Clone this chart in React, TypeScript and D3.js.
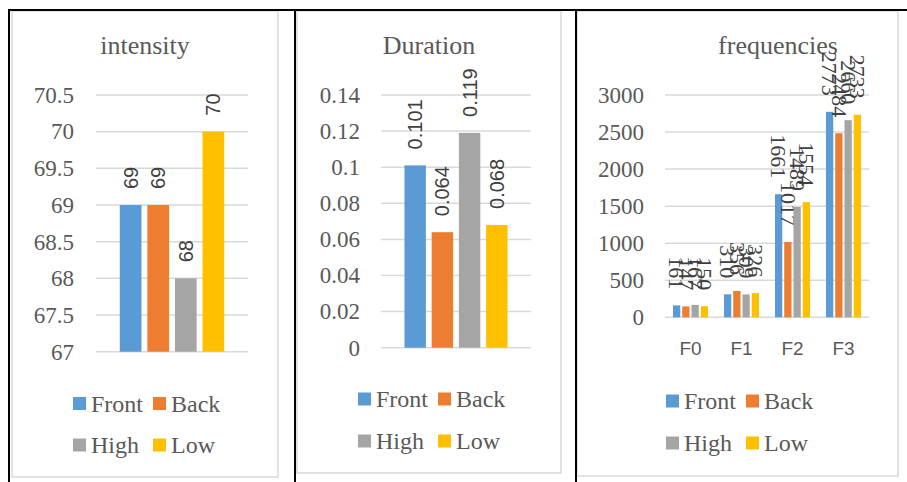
import * as React from 'react'
import * as d3 from 'd3'

const seriesNames = ['Front', 'Back', 'High', 'Low']
const seriesColors = ['#5b9bd5', '#ed7d31', '#a5a5a5', '#ffc000']

const intensityValues = [69, 69, 68, 70]
const intensityTicks = [67, 67.5, 68, 68.5, 69, 69.5, 70, 70.5]

const durationValues = [0.101, 0.064, 0.119, 0.068]
const durationTicks = [0, 0.02, 0.04, 0.06, 0.08, 0.1, 0.12, 0.14]

const freqCategories = ['F0', 'F1', 'F2', 'F3']
const freqFront = [161, 310, 1661, 2773]
const freqBack = [147, 356, 1017, 2484]
const freqHigh = [167, 309, 1489, 2660]
const freqLow = [150, 326, 1554, 2733]
const freqTicks = [0, 500, 1000, 1500, 2000, 2500, 3000]

// Excel default clustered column layout
const GAP = 2.19
const OVERLAP = 0.27

const SERIF = '"Liberation Serif", "Times New Roman", serif'
const SANS = '"Liberation Sans", Arial, sans-serif'
const TEXT = '#595959'
const LABEL = '#404040'
const GRID = '#d9d9d9'

interface PanelProps {
  frame: [number, number, number, number]
  plot: { left: number; right: number; top: number; bottom: number }
  title: string
  titleX: number
  domain: [number, number]
  ticks: number[]
  tickX: number
  categories: string[]
  values: number[][] // [series][category]
  fmt: (v: number) => string
  labelRotate: number
  labelFont: string
  labelSize: number
  legendX: number
  legendY: [number, number]
}

function Panel(p: PanelProps) {
  const { plot } = p
  const y = d3.scaleLinear().domain(p.domain).range([plot.bottom, plot.top])
  const x0 = d3.scaleBand<string>().domain(p.categories).range([plot.left, plot.right]).padding(0)
  const cw = x0.bandwidth()
  const n = seriesNames.length
  const w = cw / (n + (n - 1) * OVERLAP + GAP)
  const x1 = d3.scaleBand<string>()
    .domain(seriesNames)
    .range([(GAP * w) / 2, cw - (GAP * w) / 2])
    .paddingInner(OVERLAP / (1 + OVERLAP))
    .paddingOuter(0)

  const [fx, fy, fw, fh] = p.frame

  return (
    <g>
      <rect x={fx} y={fy} width={fw} height={fh} fill="#fff" stroke={GRID} strokeWidth={1.5} />
      <text x={p.titleX} y={54} textAnchor="middle" fontFamily={SERIF} fontSize={26} fill={TEXT}>
        {p.title}
      </text>

      {p.ticks.map(t => (
        <g key={t}>
          <line x1={plot.left} x2={plot.right} y1={y(t)} y2={y(t)} stroke={GRID} strokeWidth={1.5} />
          <text x={p.tickX} y={y(t)} dy="0.34em" textAnchor="end" fontFamily={SERIF} fontSize={23} fill={TEXT}>
            {String(t)}
          </text>
        </g>
      ))}

      {p.categories.map((c, ci) => (
        <g key={c || ci}>
          {seriesNames.map((s, si) => {
            const v = p.values[si][ci]
            const bx = x0(c)! + x1(s)!
            const cx = bx + x1.bandwidth() / 2
            const ly = y(v) - 16
            return (
              <g key={s}>
                <rect x={bx} y={y(v)} width={x1.bandwidth()} height={y(p.domain[0]) - y(v)} fill={seriesColors[si]} />
                <text
                  transform={`translate(${cx},${ly}) rotate(${p.labelRotate})`}
                  dy={p.labelRotate < 0 ? '0.35em' : '0.33em'}
                  textAnchor={p.labelRotate < 0 ? 'start' : 'end'}
                  fontFamily={p.labelFont}
                  fontSize={p.labelSize}
                  fill={LABEL}
                >
                  {p.fmt(v)}
                </text>
              </g>
            )
          })}
          {c && (
            <text x={x0(c)! + cw / 2} y={355} textAnchor="middle" fontFamily={SANS} fontSize={19} fill={TEXT}>
              {c}
            </text>
          )}
        </g>
      ))}

      {seriesNames.map((s, si) => {
        const col = si % 2
        const row = Math.floor(si / 2)
        const mx = p.legendX + col * 80
        const my = p.legendY[row]
        return (
          <g key={s}>
            <rect x={mx} y={my - 6.5} width={13} height={13} fill={seriesColors[si]} />
            <text x={mx + 18} y={my} dy="0.34em" fontFamily={SERIF} fontSize={24} fill={TEXT}>
              {s}
            </text>
          </g>
        )
      })}
    </g>
  )
}

export default function App() {
  const single = ['']
  return (
    <svg width={907} height={482} style={{ position: 'absolute', left: 0, top: 0, background: '#fff' }}>
      <Panel
        frame={[12, 11, 266, 466]}
        plot={{ left: 96, right: 248, top: 95, bottom: 351.7 }}
        title="intensity"
        titleX={145}
        domain={[67, 70.5]}
        ticks={intensityTicks}
        tickX={74}
        categories={single}
        values={intensityValues.map(v => [v])}
        fmt={v => String(v)}
        labelRotate={-90}
        labelFont={SANS}
        labelSize={20}
        legendX={73}
        legendY={[403.5, 445]}
      />
      <Panel
        frame={[297, 11, 264, 462]}
        plot={{ left: 381, right: 531, top: 95, bottom: 347.7 }}
        title="Duration"
        titleX={429}
        domain={[0, 0.14]}
        ticks={durationTicks}
        tickX={360}
        categories={single}
        values={durationValues.map(v => [v])}
        fmt={v => String(v)}
        labelRotate={-90}
        labelFont={SANS}
        labelSize={20}
        legendX={358}
        legendY={[399, 441]}
      />
      <Panel
        frame={[577, 11, 321, 465]}
        plot={{ left: 665, right: 869, top: 95, bottom: 317.3 }}
        title="frequencies"
        titleX={778}
        domain={[0, 3000]}
        ticks={freqTicks}
        tickX={644}
        categories={freqCategories}
        values={[freqFront, freqBack, freqHigh, freqLow]}
        fmt={v => String(v)}
        labelRotate={90}
        labelFont={SERIF}
        labelSize={22}
        legendX={666}
        legendY={[401, 443]}
      />
      {/* table borders */}
      <line x1={8} x2={907} y1={10} y2={10} stroke="#000" strokeWidth={2} />
      <line x1={9} x2={9} y1={9} y2={482} stroke="#000" strokeWidth={2} />
      <line x1={295} x2={295} y1={9} y2={482} stroke="#000" strokeWidth={2} />
      <line x1={576} x2={576} y1={9} y2={482} stroke="#000" strokeWidth={2} />
    </svg>
  )
}
